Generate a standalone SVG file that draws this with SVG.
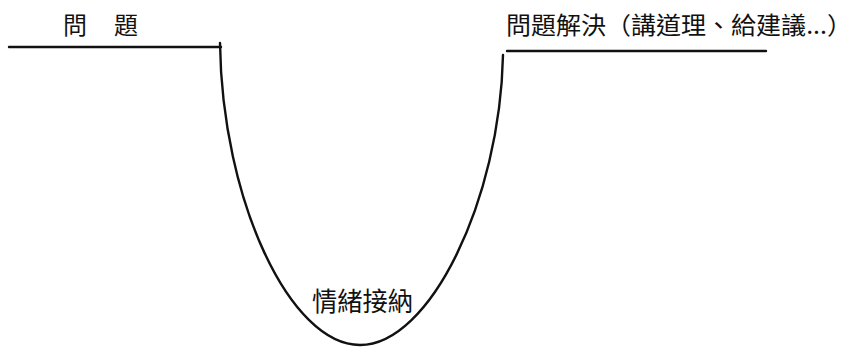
<svg xmlns="http://www.w3.org/2000/svg" width="855" height="348" viewBox="0 0 855 348">
<style>
.t{font-family:"Noto Sans CJK TC","Noto Sans CJK SC",sans-serif;fill:#111;font-size:24px}
.l{fill:none;stroke:#111;stroke-width:2.4;stroke-linecap:round}
</style>
<rect width="855" height="348" fill="#fff"/>
<g id="connectors">
<path class="l" d="M9,47 H221"/>
<path class="l" d="M507,51 H766"/>
<path class="l" d="M220,43 C222,200 290,345 360,345 C430,345 500,200 503,55"/>
</g>
<g id="problem"><text class="t" x="63" y="34">問</text><text class="t" x="114" y="34">題</text></g>
<g id="solution"><text class="t" x="506" y="34" textLength="346" lengthAdjust="spacingAndGlyphs">問題解決（講道理、給建議...）</text></g>
<g id="emotion"><text class="t" x="312" y="311" style="font-size:26px" textLength="101" lengthAdjust="spacingAndGlyphs">情緒接納</text></g>
</svg>
